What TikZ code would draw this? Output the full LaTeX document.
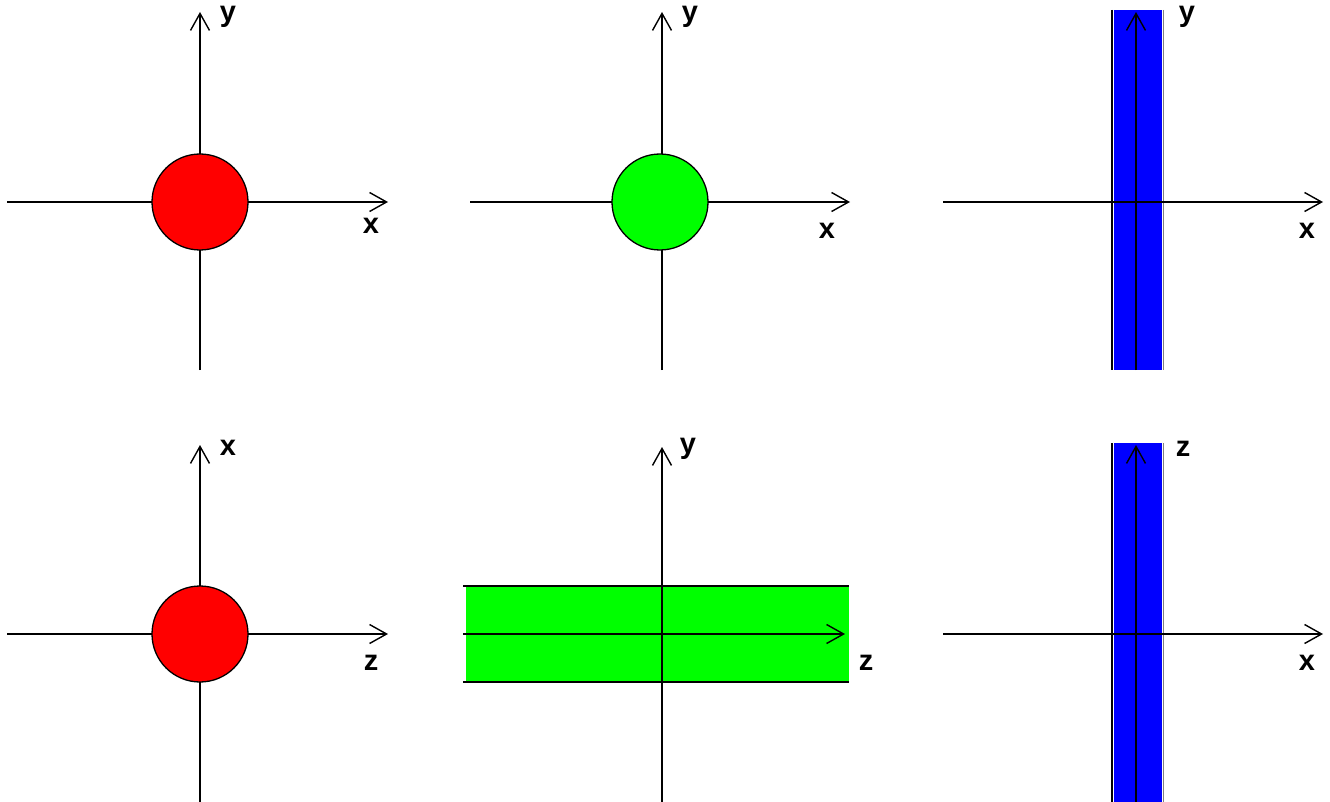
\documentclass[tikz,border=0pt]{standalone}
\usepackage{fontspec}
\setmainfont{Liberation Sans}
\usetikzlibrary{arrows.meta}
\definecolor{pureRed}{RGB}{255,0,0}
\definecolor{pureGreen}{RGB}{0,255,0}
\definecolor{pureBlue}{RGB}{0,0,255}
\tikzset{
	axis/.style={line width=1.4pt, -{Straight Barb[length=17pt,width=19pt,line width=1.4pt]}},
	lbl/.style={font=\bfseries\fontsize{29}{31}\selectfont, inner sep=0pt},
	disc/.style={line width=1.3pt, draw=black}
}
\begin{document}
\begin{tikzpicture}[x=1pt,y=-1pt]
		\useasboundingbox (0,0) rectangle (1330,802);

		% row 1: x-y planes
		\draw[axis] (7,202) -- (388,202);
		\draw[axis] (200,370) -- (200,12);
		\draw[disc, fill=pureRed] (200,202) circle (48);
		\node[lbl] (ya) at (228,17) {y};
		\node[lbl] (xa) at (371,226) {x};

		\draw[axis] (470,202) -- (850,202);
		\draw[axis] (662,370) -- (662,12);
		\draw[disc, fill=pureGreen] (660,202) circle (48);
		\node[lbl] (yb) at (690,17) {y};
		\node[lbl] (xb) at (827,231) {x};

		\fill[pureBlue] (1114,10) rectangle (1162,370);
		\draw[line width=1.4pt] (1112,10) -- (1112,370);
		\draw[line width=1.4pt, gray] (1163.5,10) -- (1163.5,370);
		\draw[axis] (943,202) -- (1323,202);
		\draw[axis] (1136,370) -- (1136,12);
		\node[lbl] (yc) at (1187,17) {y};
		\node[lbl] (xc) at (1307,231) {x};

		% row 2: z-x and z-y planes
		\draw[axis] (7,634) -- (388,634);
		\draw[axis] (200,802) -- (200,445);
		\draw[disc, fill=pureRed] (200,634) circle (48);
		\node[lbl] (xd) at (228,448) {x};
		\node[lbl] (zd) at (371,663) {z};

		\fill[pureGreen] (466,586) rectangle (849,682);
		\draw[line width=1.4pt] (463,586) -- (849,586);
		\draw[line width=1.4pt] (463,682) -- (849,682);
		\draw[axis] (463,634) -- (845,634);
		\draw[axis] (662,802) -- (662,447);
		\node[lbl] (ye) at (688,449) {y};
		\node[lbl] (ze) at (866,663) {z};

		\fill[pureBlue] (1114,443) rectangle (1162,802);
		\draw[line width=1.4pt] (1112,443) -- (1112,802);
		\draw[line width=1.4pt, gray] (1163.5,443) -- (1163.5,802);
		\draw[axis] (943,634) -- (1323,634);
		\draw[axis] (1136,802) -- (1136,445);
		\node[lbl] (zf) at (1183,449) {z};
		\node[lbl] (xf) at (1307,663) {x};
	\end{tikzpicture}
\end{document}
